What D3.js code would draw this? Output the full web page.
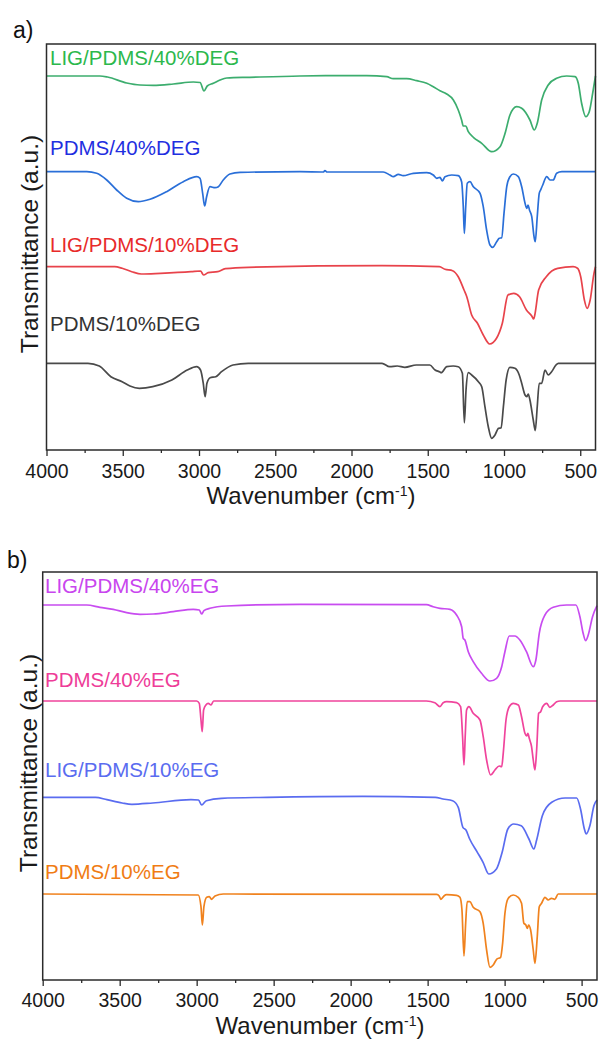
<!DOCTYPE html>
<html lang="en">
  <head>
    <meta charset="UTF-8" />
    <title>FTIR spectra - PDMS / DEG / EG</title>
    <script src="https://d3js.org/d3.v7.min.js"></script>
    <style>
      body {
        margin: 0;
        background: #fff;
      }
      #chart svg {
        display: block;
        font-family: "Liberation Sans", Arial, sans-serif;
      }
    </style>
  </head>
  <body>
    <div id="chart"></div>

    <script>
      // Axis ticks (cm-1)
      const majorTicks = [4000, 3500, 3000, 2500, 2000, 1500, 1000, 500];
      const minorTicks = [3750, 3250, 2750, 2250, 1750, 1250, 750];

      // Series names
      const namesA = ["LIG/PDMS/40%DEG", "PDMS/40%DEG", "LIG/PDMS/10%DEG", "PDMS/10%DEG"];
      const namesB = ["LIG/PDMS/40%EG", "PDMS/40%EG", "LIG/PDMS/10%EG", "PDMS/10%EG"];

      // Spectra: [wavenumber, transmittance (a.u., offset)]
      const ligPdms40Deg = [
        [4000, 3.74], [3650, 3.74], [3600, 3.73], [3474, 3.67], [3387, 3.65], [3300, 3.647],
        [3168, 3.66], [3037, 3.68], [2993, 3.675], [2967, 3.59], [2946, 3.64], [2906, 3.667],
        [2862, 3.7], [2818, 3.72], [2666, 3.727], [2338, 3.74], [2119, 3.743], [1900, 3.743],
        [1769, 3.733], [1726, 3.713], [1638, 3.713], [1572, 3.693], [1507, 3.667], [1464, 3.633],
        [1420, 3.593], [1376, 3.56], [1332, 3.5], [1300, 3.4], [1278, 3.3], [1267, 3.24],
        [1251, 3.24], [1234, 3.183], [1201, 3.127], [1146, 3.067], [1081, 2.983], [1026, 3.033],
        [993, 3.167], [961, 3.35], [917, 3.433], [884, 3.417], [830, 3.3], [801, 3.2],
        [782, 3.267], [753, 3.5], [710, 3.65], [655, 3.717], [589, 3.74], [534, 3.733],
        [513, 3.667], [491, 3.467], [464, 3.333], [441, 3.383], [415, 3.6], [400, 3.74]
      ];
      const pdms40Deg = [
        [4000, 2.783], [3736, 2.783], [3671, 2.767], [3605, 2.7], [3540, 2.6], [3474, 2.517],
        [3398, 2.483], [3321, 2.507], [3212, 2.583], [3103, 2.683], [3015, 2.733], [2993, 2.717],
        [2976, 2.567], [2963, 2.44], [2950, 2.533], [2928, 2.633], [2895, 2.623], [2873, 2.633],
        [2841, 2.7], [2797, 2.76], [2731, 2.777], [2338, 2.783], [2185, 2.78], [2174, 2.793],
        [2160, 2.78], [1792, 2.78], [1748, 2.75], [1726, 2.733], [1693, 2.757], [1661, 2.743],
        [1595, 2.767], [1507, 2.773], [1464, 2.75], [1441, 2.717], [1420, 2.727], [1404, 2.69],
        [1387, 2.733], [1343, 2.75], [1300, 2.743], [1278, 2.683], [1267, 2.433], [1260, 2.167],
        [1251, 2.433], [1241, 2.667], [1223, 2.683], [1201, 2.633], [1157, 2.567], [1136, 2.433],
        [1114, 2.2], [1092, 2.05], [1074, 2.027], [1048, 2.083], [1031, 2.117], [1015, 2.123],
        [1000, 2.367], [982, 2.633], [961, 2.733], [939, 2.76], [906, 2.733], [884, 2.633],
        [862, 2.467], [851, 2.417], [842, 2.45], [833, 2.4], [818, 2.333], [803, 2.133],
        [795, 2.083], [782, 2.333], [769, 2.567], [760, 2.6], [746, 2.65], [720, 2.733],
        [698, 2.7], [677, 2.7], [655, 2.767], [620, 2.783], [400, 2.783]
      ];
      const ligPdms10Deg = [
        [4000, 1.833], [3553, 1.833], [3504, 1.817], [3441, 1.783], [3378, 1.76], [3253, 1.767],
        [3052, 1.783], [2990, 1.79], [2970, 1.75], [2940, 1.773], [2877, 1.783], [2827, 1.813],
        [2677, 1.827], [1800, 1.843], [1424, 1.833], [1387, 1.807], [1337, 1.793], [1300, 1.733],
        [1262, 1.6], [1244, 1.533], [1212, 1.35], [1174, 1.267], [1136, 1.15], [1094, 1.06],
        [1049, 1.117], [1011, 1.267], [974, 1.55], [936, 1.567], [898, 1.533], [853, 1.4],
        [818, 1.34], [805, 1.31], [798, 1.35], [773, 1.6], [723, 1.733], [648, 1.817],
        [547, 1.833], [518, 1.817], [497, 1.733], [473, 1.5], [455, 1.417], [435, 1.5],
        [410, 1.767], [400, 1.833]
      ];
      const pdms10Deg = [
        [4000, 0.867], [3728, 0.867], [3654, 0.84], [3578, 0.733], [3504, 0.683], [3453, 0.64],
        [3391, 0.617], [3303, 0.633], [3178, 0.7], [3077, 0.8], [3015, 0.833], [2990, 0.8],
        [2972, 0.667], [2960, 0.533], [2948, 0.667], [2927, 0.723], [2890, 0.733], [2852, 0.783],
        [2777, 0.85], [2677, 0.867], [1800, 0.867], [1750, 0.833], [1700, 0.84], [1650, 0.827],
        [1575, 0.85], [1487, 0.85], [1452, 0.8], [1420, 0.78], [1412, 0.773], [1376, 0.833],
        [1333, 0.84], [1300, 0.833], [1273, 0.767], [1260, 0.273], [1249, 0.6], [1234, 0.773],
        [1212, 0.75], [1168, 0.683], [1146, 0.633], [1125, 0.433], [1103, 0.233], [1081, 0.117],
        [1059, 0.15], [1036, 0.217], [1019, 0.22], [1004, 0.433], [986, 0.7], [961, 0.827],
        [928, 0.817], [900, 0.75], [884, 0.667], [862, 0.55], [851, 0.533], [841, 0.56],
        [830, 0.5], [808, 0.3], [795, 0.193], [782, 0.433], [769, 0.667], [753, 0.667],
        [731, 0.8], [710, 0.75], [688, 0.783], [659, 0.85], [644, 0.867], [400, 0.867]
      ];
      const ligPdms40Eg = [
        [4000, 3.75], [3714, 3.75], [3628, 3.727], [3542, 3.707], [3455, 3.673], [3368, 3.657],
        [3282, 3.66], [3152, 3.683], [3022, 3.707], [2983, 3.7], [2968, 3.66], [2953, 3.693],
        [2914, 3.717], [2806, 3.74], [2329, 3.757], [1508, 3.753], [1464, 3.733], [1420, 3.717],
        [1355, 3.707], [1312, 3.65], [1279, 3.533], [1269, 3.417], [1258, 3.4], [1236, 3.283],
        [1204, 3.183], [1150, 3.067], [1095, 2.99], [1052, 3.017], [1019, 3.133], [998, 3.283],
        [970, 3.44], [933, 3.44], [901, 3.4], [858, 3.283], [814, 3.133], [797, 3.2],
        [775, 3.467], [738, 3.65], [684, 3.727], [598, 3.75], [537, 3.75], [511, 3.633],
        [490, 3.467], [474, 3.393], [457, 3.45], [429, 3.633], [400, 3.743]
      ];
      const pdms40Eg = [
        [4000, 2.79], [3000, 2.79], [2983, 2.767], [2972, 2.6], [2964, 2.483], [2955, 2.7],
        [2940, 2.75], [2925, 2.767], [2907, 2.75], [2890, 2.79], [1508, 2.79], [1453, 2.773],
        [1420, 2.733], [1399, 2.773], [1377, 2.783], [1312, 2.773], [1286, 2.733], [1273, 2.433],
        [1264, 2.15], [1256, 2.433], [1247, 2.7], [1232, 2.733], [1204, 2.667], [1160, 2.6],
        [1139, 2.433], [1117, 2.2], [1091, 2.05], [1063, 2.1], [1035, 2.14], [1019, 2.133],
        [1009, 2.267], [991, 2.6], [970, 2.733], [944, 2.767], [911, 2.75], [890, 2.633],
        [868, 2.467], [857, 2.44], [849, 2.467], [840, 2.417], [825, 2.333], [814, 2.2],
        [803, 2.1], [792, 2.3], [779, 2.667], [766, 2.683], [753, 2.733], [727, 2.767],
        [706, 2.727], [684, 2.75], [662, 2.783], [640, 2.79], [400, 2.79]
      ];
      const ligPdms10Eg = [
        [4000, 1.827], [3657, 1.827], [3583, 1.803], [3484, 1.77], [3421, 1.757], [3285, 1.77],
        [3037, 1.803], [2988, 1.8], [2968, 1.75], [2937, 1.793], [2839, 1.817], [2541, 1.827],
        [1921, 1.837], [1450, 1.827], [1400, 1.81], [1338, 1.793], [1301, 1.727], [1271, 1.527],
        [1251, 1.5], [1227, 1.41], [1177, 1.277], [1140, 1.177], [1103, 1.06], [1053, 1.11],
        [1016, 1.277], [979, 1.51], [941, 1.56], [892, 1.543], [842, 1.41], [810, 1.31],
        [792, 1.4], [755, 1.643], [694, 1.777], [607, 1.82], [532, 1.82], [507, 1.71],
        [482, 1.51], [470, 1.46], [445, 1.55], [420, 1.743], [400, 1.8]
      ];
      const pdms10Eg = [
        [4000, 0.86], [2990, 0.85], [2972, 0.733], [2963, 0.55], [2953, 0.733], [2935, 0.827],
        [2918, 0.833], [2903, 0.807], [2881, 0.84], [2827, 0.86], [1442, 0.857], [1425, 0.84],
        [1414, 0.807], [1394, 0.84], [1377, 0.853], [1312, 0.847], [1290, 0.827], [1277, 0.7],
        [1264, 0.24], [1253, 0.567], [1243, 0.783], [1225, 0.783], [1204, 0.727], [1160, 0.683],
        [1139, 0.567], [1117, 0.3], [1095, 0.127], [1074, 0.15], [1052, 0.207], [1026, 0.227],
        [1013, 0.367], [998, 0.667], [976, 0.817], [944, 0.85], [912, 0.827], [890, 0.767],
        [875, 0.567], [862, 0.55], [853, 0.517], [844, 0.55], [831, 0.5], [814, 0.3],
        [803, 0.167], [788, 0.433], [775, 0.733], [760, 0.767], [738, 0.827], [717, 0.8],
        [696, 0.817], [674, 0.807], [652, 0.86], [400, 0.86]
      ];

      // Layout of both panels (pixels)
      const panels = [
        {
          letter: "a)", letterX: 13, letterY: 38,
          left: 46.5, right: 595.5, top: 44, bottom: 450, yMax: 4.06,
          tickTextY: 14.3, xlabelX: 311, xlabelY: 504, ylabelX: 38, ylabelY: 244,
          labelX: 50, labelY: [65, 155, 252, 331],
          names: namesA,
          spectra: [ligPdms40Deg, pdms40Deg, ligPdms10Deg, pdms10Deg],
          lineColors: ["#3cad6e", "#2a6fd8", "#e8434b", "#4a4a4a"],
          textColors: ["#2cb84c", "#1f2fe0", "#e82a2a", "#333333"],
        },
        {
          letter: "b)", letterX: 7, letterY: 568,
          left: 42.7, right: 597, top: 572, bottom: 980, yMax: 4.08,
          tickTextY: 13.5, xlabelX: 320, xlabelY: 1033.5, ylabelX: 37, ylabelY: 763,
          labelX: 45, labelY: [593, 687, 777, 879],
          names: namesB,
          spectra: [ligPdms40Eg, pdms40Eg, ligPdms10Eg, pdms10Eg],
          lineColors: ["#c84cf0", "#f0449c", "#5a6cf0", "#f0821e"],
          textColors: ["#c845ee", "#ee3c98", "#5a6cf0", "#f07c14"],
        },
      ];

      const width = 599,
        height = 1039;

      const svg = d3
        .select("#chart")
        .append("svg")
        .attr("width", width)
        .attr("height", height);

      function drawPanel(p) {
        const x = d3.scaleLinear().domain([4000, 400]).range([p.left, p.right]);
        const y = d3.scaleLinear().domain([0, p.yMax]).range([p.bottom, p.top]);

        const g = svg.append("g");

        // spectra
        const line = d3
          .line()
          .x((d) => x(d[0]))
          .y((d) => y(d[1]))
          .curve(d3.curveMonotoneX);

        p.spectra.forEach((s, i) => {
          g.append("path")
            .datum(s)
            .attr("d", line)
            .attr("fill", "none")
            .attr("stroke", p.lineColors[i])
            .attr("stroke-width", 1.7)
            .attr("stroke-linejoin", "round");
        });

        // frame
        g.append("rect")
          .attr("x", p.left)
          .attr("y", p.top)
          .attr("width", p.right - p.left)
          .attr("height", p.bottom - p.top)
          .attr("fill", "none")
          .attr("stroke", "#2b2b2b")
          .attr("stroke-width", 1.5);

        // minor ticks
        g.append("g")
          .attr("transform", `translate(0,${p.bottom})`)
          .call(d3.axisBottom(x).tickValues(minorTicks).tickSize(3).tickFormat(""))
          .call((a) => a.select(".domain").remove())
          .call((a) => a.selectAll("line").attr("stroke", "#2b2b2b").attr("stroke-width", 1.3));

        // major ticks + labels
        g.append("g")
          .attr("transform", `translate(0,${p.bottom})`)
          .call(d3.axisBottom(x).tickValues(majorTicks).tickSize(6).tickFormat(d3.format("d")))
          .call((a) => a.select(".domain").remove())
          .call((a) => a.selectAll("line").attr("stroke", "#2b2b2b").attr("stroke-width", 1.3))
          .call((a) =>
            a
              .selectAll("text")
              .attr("y", p.tickTextY)
              .attr("fill", "#1a1a1a")
              .style("font-size", "19.5px")
              .style("font-family", '"Liberation Sans", Arial, sans-serif')
          );

        // x label
        const xl = g
          .append("text")
          .attr("x", p.xlabelX)
          .attr("y", p.xlabelY)
          .attr("text-anchor", "middle")
          .attr("fill", "#1a1a1a")
          .style("font-size", "24px");
        xl.append("tspan").text("Wavenumber (cm");
        xl.append("tspan").attr("dy", -8).style("font-size", "14px").text("-1");
        xl.append("tspan").attr("dy", 8).text(")");

        // y label
        g.append("text")
          .attr("transform", `translate(${p.ylabelX},${p.ylabelY}) rotate(-90)`)
          .attr("text-anchor", "middle")
          .attr("fill", "#1a1a1a")
          .style("font-size", "24.5px")
          .text("Transmittance (a.u.)");

        // panel letter
        g.append("text")
          .attr("x", p.letterX)
          .attr("y", p.letterY)
          .attr("fill", "#111")
          .style("font-size", "23px")
          .text(p.letter);

        // series labels
        p.names.forEach((n, i) => {
          g.append("text")
            .attr("x", p.labelX)
            .attr("y", p.labelY[i])
            .attr("fill", p.textColors[i])
            .style("font-size", "20.5px")
            .text(n);
        });
      }

      panels.forEach(drawPanel);
    </script>
  </body>
</html>
